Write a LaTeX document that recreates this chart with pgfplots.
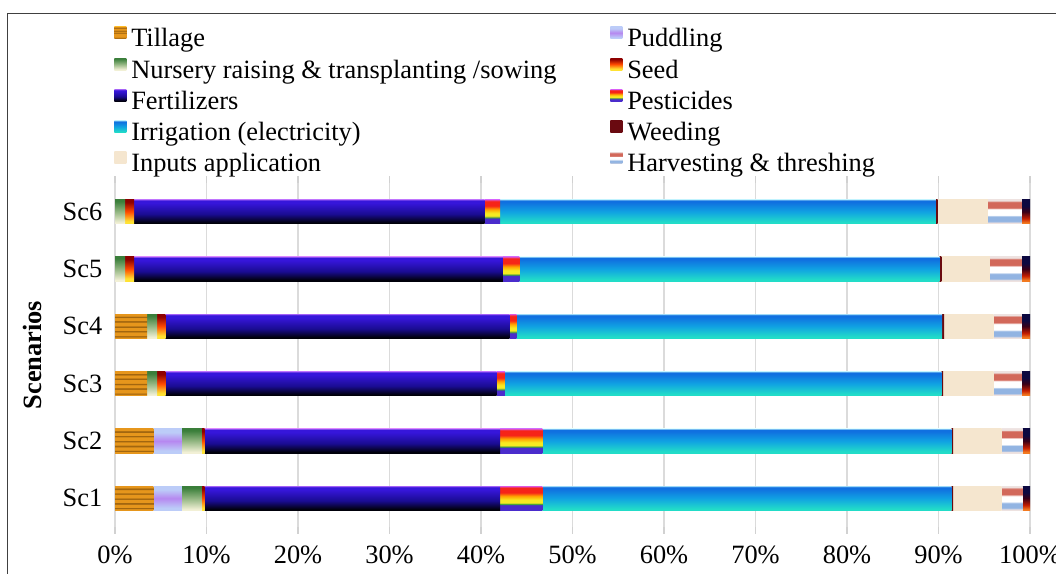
\documentclass[border=0pt]{standalone}
\usepackage{fontspec}
\setmainfont{Liberation Serif}
\usepackage{pgfplots}
\pgfplotsset{compat=1.18}

% ---------- colours ----------
\definecolor{tilO}{HTML}{E6961C}
\definecolor{tilB}{HTML}{A2660F}
\definecolor{pudL}{HTML}{BCCCF8}
\definecolor{pudV}{HTML}{B688F0}
\definecolor{nurD}{HTML}{3A7E3A}
\definecolor{nurM}{HTML}{93B682}
\definecolor{nurP}{HTML}{F2F0D6}
\definecolor{seedT}{HTML}{8E0000}
\definecolor{seedM}{HTML}{FF4A00}
\definecolor{seedB}{HTML}{FFE232}
\definecolor{fertL}{HTML}{8A50F0}
\definecolor{fertT}{HTML}{3616DA}
\definecolor{fertM}{HTML}{1A0C92}
\definecolor{fertD}{HTML}{00000A}
\definecolor{pBlue}{HTML}{4A2CCC}
\definecolor{pGreen}{HTML}{3CA03C}
\definecolor{pYellow}{HTML}{F6EA22}
\definecolor{pOrange}{HTML}{FFA000}
\definecolor{pRed}{HTML}{F62418}
\definecolor{pMag}{HTML}{E050C0}
\definecolor{irrL}{HTML}{7CC0F2}
\definecolor{irrT}{HTML}{1070E0}
\definecolor{irrM}{HTML}{10A2E2}
\definecolor{irrB}{HTML}{22DCC8}
\definecolor{weedC}{HTML}{6A0A10}
\definecolor{inpC}{HTML}{F5E6CF}
\definecolor{hPale}{HTML}{EEE2E0}
\definecolor{hRed}{HTML}{D2685A}
\definecolor{hBlue}{HTML}{92B4E2}
\definecolor{othT}{HTML}{0C0840}
\definecolor{othM}{HTML}{3A0018}
\definecolor{othR}{HTML}{C41C00}
\definecolor{othB}{HTML}{F27A20}

% ---------- fills (bottom of a bar = 25bp, top = 75bp) ----------
\pgfdeclareverticalshading{shTil}{100bp}{color(0bp)=(tilO); color(28bp)=(tilO); color(28.2bp)=(tilB); color(31bp)=(tilB); color(31.2bp)=(tilO);
 color(38bp)=(tilO); color(38.2bp)=(tilB); color(41bp)=(tilB); color(41.2bp)=(tilO);
 color(48bp)=(tilO); color(48.2bp)=(tilB); color(51bp)=(tilB); color(51.2bp)=(tilO);
 color(58bp)=(tilO); color(58.2bp)=(tilB); color(61bp)=(tilB); color(61.2bp)=(tilO);
 color(68bp)=(tilO); color(68.2bp)=(tilB); color(71bp)=(tilB); color(71.2bp)=(tilO); color(100bp)=(tilO)}
\pgfdeclareverticalshading{shPud}{100bp}{color(0bp)=(pudL); color(30bp)=(pudL); color(50bp)=(pudV); color(68bp)=(pudL); color(100bp)=(pudL)}
\pgfdeclareverticalshading{shNur}{100bp}{color(0bp)=(nurP); color(27bp)=(nurP); color(50bp)=(nurM); color(72bp)=(nurD); color(100bp)=(nurD)}
\pgfdeclareverticalshading{shSeed}{100bp}{color(0bp)=(seedB); color(30bp)=(seedB); color(50bp)=(seedM); color(70bp)=(seedT); color(100bp)=(seedT)}
\pgfdeclareverticalshading{shFert}{100bp}{color(0bp)=(fertD); color(27bp)=(fertD); color(45bp)=(fertM); color(68bp)=(fertT); color(73bp)=(fertT); color(75bp)=(fertL); color(100bp)=(fertL)}
\pgfdeclareverticalshading{shPest}{100bp}{color(0bp)=(pBlue); color(36bp)=(pBlue); color(38bp)=(pGreen); color(41bp)=(pYellow); color(47bp)=(pYellow); color(55bp)=(pOrange); color(62bp)=(pRed); color(72bp)=(pRed); color(75bp)=(pMag); color(100bp)=(pMag)}
\pgfdeclareverticalshading{shIrr}{100bp}{color(0bp)=(irrB); color(28bp)=(irrB); color(50bp)=(irrM); color(70bp)=(irrT); color(73bp)=(irrT); color(75bp)=(irrL); color(100bp)=(irrL)}
\pgfdeclareverticalshading{shWeed}{100bp}{color(0bp)=(weedC); color(100bp)=(weedC)}
\pgfdeclareverticalshading{shInp}{100bp}{color(0bp)=(inpC); color(100bp)=(inpC)}
\pgfdeclareverticalshading{shHarv}{100bp}{color(0bp)=(hPale); color(27bp)=(hPale); color(30bp)=(hBlue); color(40bp)=(hBlue); color(43bp)=(white); color(55bp)=(white); color(58bp)=(hRed); color(70bp)=(hRed); color(73bp)=(hPale); color(100bp)=(hPale)}
\pgfdeclareverticalshading{shOth}{100bp}{color(0bp)=(othB); color(27bp)=(othB); color(36bp)=(othR); color(50bp)=(othM); color(62bp)=(othT); color(100bp)=(othT)}

\newcommand{\fsz}{\fontsize{19.8}{23}\selectfont}

\pgfplotsset{
  base geometry/.style={
    at={(86.25pt,35.25pt)}, anchor=south west,
    scale only axis, width=686.25pt, height=258pt,
    xmin=0, xmax=100, ymin=0.5, ymax=6.5},
  bar layer/.style={base geometry, hide axis, xbar stacked, bar width=0.42,
    every axis plot/.append style={draw=none}},
}

% One stacked bar: #1 = scenario position, #2 = list of fill/share(%) pairs
\newcommand{\scenario}[2]{%
  \begin{axis}[bar layer]
  \pgfplotsforeachungrouped \s/\v in {#2}{%
    \edef\tmp{\noexpand\addplot[shading=\s] coordinates {(\v,#1)};}\tmp
  }
  \end{axis}}

\begin{document}
\begin{tikzpicture}
\useasboundingbox (0pt,0pt) rectangle (792pt,430.5pt);
\draw[line width=1pt, black!75] (5.6pt,-1pt) -- (5.6pt,420.6pt) -- (793pt,420.6pt);

% frame, grid, ticks and legend
\begin{axis}[
  base geometry,
  ytick={1,...,6}, yticklabels={Sc1,Sc2,Sc3,Sc4,Sc5,Sc6},
  xtick={0,10,...,100},
  xticklabels={0\%,10\%,20\%,30\%,40\%,50\%,60\%,70\%,80\%,90\%,100\%},
  axis line style={draw=none},
  xmajorgrids, grid style={draw=black!14, line width=0.9pt},
  tick align=outside, major tick length=5pt,
  xtick style={draw=black!18, line width=0.9pt},
  ytick style={draw=none},
  ticklabel style={font=\fsz},
  xticklabel style={yshift=-6pt},
  yticklabel style={xshift=-1pt},
  every axis y label/.style={at={(axis description cs:-0.0907,0.5)}, rotate=90, anchor=center, font=\fsz\bfseries},
  ylabel={Scenarios},
  legend columns=2,
  legend cell align=left,
  legend style={at={(axis description cs:-0.0011,1.4564)}, anchor=north west,
    draw=none, fill=none, inner sep=0pt, font=\fsz, column sep=0pt, row sep=2.25pt,
    nodes={inner ysep=0.8pt, inner xsep=3.75pt, text height=14.6pt, text depth=5pt}},
  legend image code/.code={\path[#1, draw=none] (0pt,1.2pt) rectangle (9pt,10.2pt);},
]
\addlegendimage{shading=shTil}  \addlegendentry{\makebox[355.5pt][l]{Tillage}}
\addlegendimage{shading=shPud}  \addlegendentry{Puddling}
\addlegendimage{shading=shNur}  \addlegendentry{\makebox[355.5pt][l]{Nursery raising \& transplanting /sowing}}
\addlegendimage{shading=shSeed} \addlegendentry{Seed}
\addlegendimage{shading=shFert} \addlegendentry{\makebox[355.5pt][l]{Fertilizers}}
\addlegendimage{shading=shPest} \addlegendentry{Pesticides}
\addlegendimage{shading=shIrr}  \addlegendentry{\makebox[355.5pt][l]{Irrigation (electricity)}}
\addlegendimage{shading=shWeed} \addlegendentry{Weeding}
\addlegendimage{shading=shInp}  \addlegendentry{\makebox[355.5pt][l]{Inputs application}}
\addlegendimage{shading=shHarv} \addlegendentry{Harvesting \& threshing}
\end{axis}

% shares (%) of each operation, one stacked bar per scenario
\scenario{1}{shTil/4.2, shPud/3.1, shNur/2.2, shSeed/0.3, shFert/32.3, shPest/4.6, shIrr/44.7, shWeed/0.2, shInp/5.3, shHarv/2.3, shOth/0.8}
\scenario{2}{shTil/4.2, shPud/3.1, shNur/2.2, shSeed/0.3, shFert/32.3, shPest/4.6, shIrr/44.7, shWeed/0.2, shInp/5.3, shHarv/2.3, shOth/0.8}
\scenario{3}{shTil/3.5, shNur/1.1, shSeed/0.9, shFert/36.2, shPest/0.9, shIrr/47.7, shWeed/0.2, shInp/5.5, shHarv/3.1, shOth/0.9}
\scenario{4}{shTil/3.5, shNur/1.1, shSeed/0.9, shFert/37.6, shPest/0.8, shIrr/46.5, shWeed/0.2, shInp/5.4, shHarv/3.1, shOth/0.9}
\scenario{5}{shNur/1.1, shSeed/1.0, shFert/40.3, shPest/1.8, shIrr/45.9, shWeed/0.2, shInp/5.3, shHarv/3.5, shOth/0.9}
\scenario{6}{shNur/1.1, shSeed/1.0, shFert/38.3, shPest/1.7, shIrr/47.6, shWeed/0.2, shInp/5.5, shHarv/3.7, shOth/0.9}
\end{tikzpicture}
\end{document}
